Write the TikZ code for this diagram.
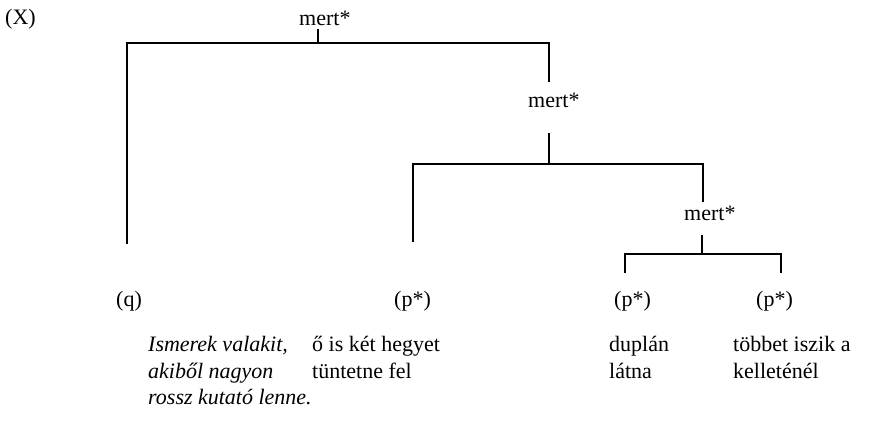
\documentclass[tikz,border=0pt]{standalone}
\usepackage{fontspec}
\setmainfont{Liberation Serif}
\begin{document}
\begin{tikzpicture}[x=1pt,y=-1pt,
  lab/.style={inner sep=0pt, anchor=base west, font=\fontsize{22}{26}\selectfont},
  leaf/.style={lab, align=left},
  br/.style={line width=2.8pt}]
\useasboundingbox (0,0) rectangle (878,427);
% labels
\node[lab] (X) at (5,25) {(X)};
\node[lab] (m1) at (299,26) {mert*};
\node[lab] (m2) at (528,108) {mert*};
\node[lab] (m3) at (684,221) {mert*};
\node[lab] (q) at (116,307) {(q)};
\node[lab] (p1) at (394,307) {(p*)};
\node[lab] (p2) at (614,307) {(p*)};
\node[lab] (p3) at (756,307) {(p*)};
% leaf texts (anchored on their last line)
\node[leaf, font=\fontsize{22}{26}\selectfont\itshape] (t1) at (148,404) {Ismerek valakit,\\akiből nagyon\\rossz kutató lenne.};
\node[leaf] (t2) at (312,378) {ő is két hegyet\\tüntetne fel};
\node[leaf] (t3) at (609,378) {duplán\\látna};
\node[leaf] (t4) at (733,378) {többet iszik a\\kelleténél};
% bracket coordinates
\coordinate (j1) at (318,43);
\coordinate (j2) at (549,164);
\coordinate (j3) at (702,254);
\coordinate (s1) at (318,29);
\coordinate (s2) at (549,133);
\coordinate (s3) at (702,235);
\coordinate (e1) at (549,82);
\coordinate (e2) at (703,202);
\coordinate (lq) at (127,244);
\coordinate (lp1) at (413,242);
\coordinate (lp2) at (625,273);
\coordinate (lp3) at (781,273);
% brackets
\draw[br] (s1) -- (j1);
\draw[br] (lq) |- (e1 |- j1) -- (e1);
\draw[br] (s2) -- (j2);
\draw[br] (lp1) |- (e2 |- j2) -- (e2);
\draw[br] (s3) -- (j3);
\draw[br] (lp2) |- (lp3 |- j3) -- (lp3);
\end{tikzpicture}
\end{document}
